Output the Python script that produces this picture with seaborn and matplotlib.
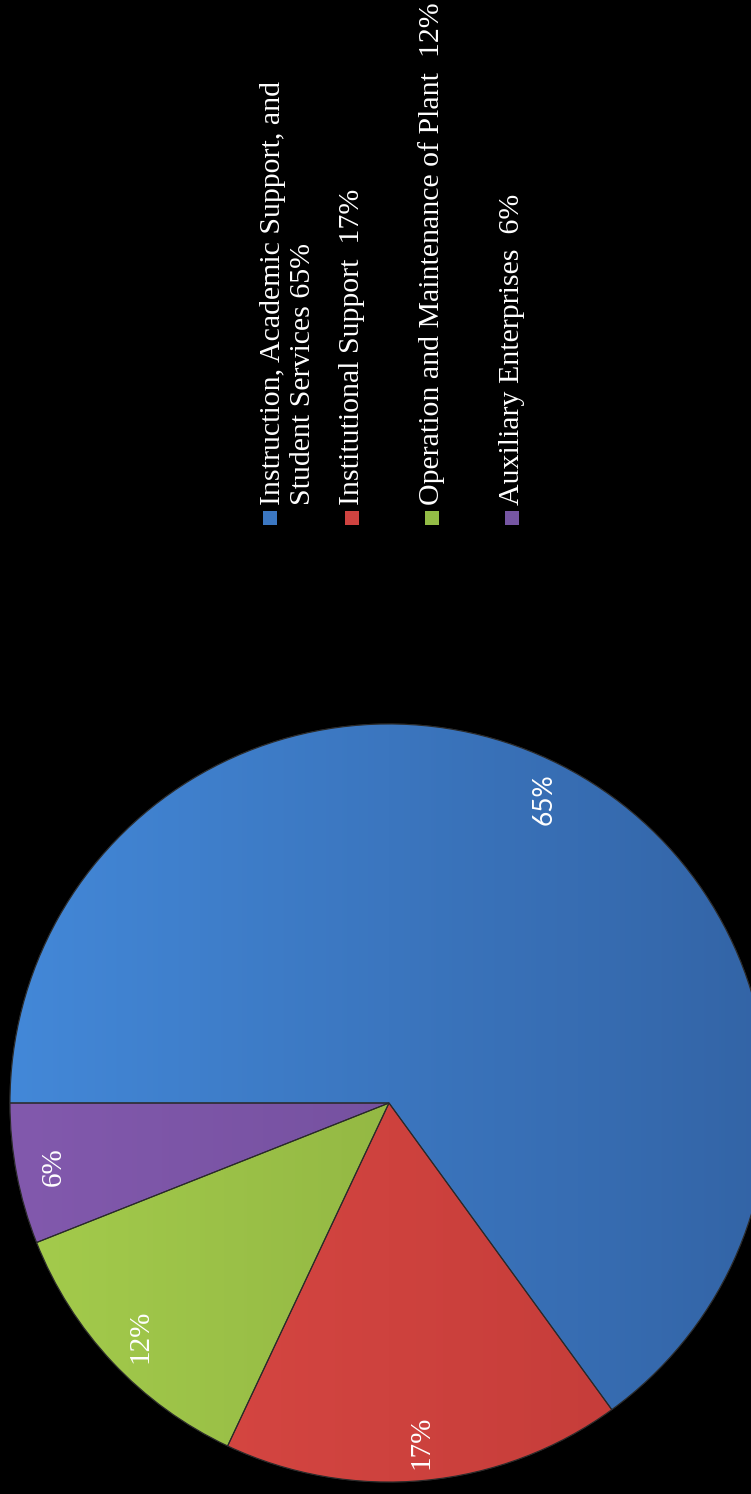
import matplotlib
matplotlib.use("Agg")
import matplotlib.pyplot as plt
import seaborn as sns
import numpy as np
from matplotlib.patches import Rectangle
from matplotlib.colors import LinearSegmentedColormap

# ---- data ----
categories = [
    "Instruction, Academic Support, and\nStudent Services 65%",
    "Institutional Support  17%",
    "Operation and Maintenance of Plant  12%",
    "Auxiliary Enterprises  6%",
]
values = [65, 17, 12, 6]
pct_labels = ["65%", "17%", "12%", "6%"]
colors = ["#3b77c2", "#cf4340", "#93bc46", "#7656a3"]
light_colors = ["#4388d8", "#dc4a45", "#a4cc4c", "#8259ad"]
dark_colors = ["#3364a6", "#c03a37", "#84a53c", "#6a4a94"]

sns.set_theme(style="white")
plt.rcParams["font.family"] = ["Liberation Serif", "DejaVu Serif"]

W, H = 751, 1494
fig = plt.figure(figsize=(W / 100, H / 100), dpi=100, facecolor="black")

cx, cy, R = 389, 1103, 379
ax = fig.add_axes([(cx - R) / W, (H - cy - R) / H, 2 * R / W, 2 * R / H])
ax.set_facecolor("black")
wedges, texts = ax.pie(
    values,
    colors=colors,
    startangle=180,
    counterclock=False,
    radius=1.0,
    wedgeprops=dict(edgecolor="#2a2a2a", linewidth=0.8),
)
grad = np.linspace(0, 1, 256).reshape(1, -1)
for w, lc, dc in zip(wedges, light_colors, dark_colors):
    w.set_clip_on(False)
    cmap = LinearSegmentedColormap.from_list("g", [lc, dc])
    im = ax.imshow(grad, cmap=cmap, extent=(-1, 1, -1, 1), aspect="auto",
                   zorder=w.get_zorder() + 0.1, interpolation="bilinear")
    im.set_clip_path(w)
    ax.add_patch(matplotlib.patches.Wedge(w.center, w.r, w.theta1, w.theta2,
                                          facecolor="none", edgecolor="#2a2a2a",
                                          linewidth=0.8, zorder=w.get_zorder() + 0.2,
                                          clip_on=False))
ax.set_xlim(-1, 1)
ax.set_ylim(-1, 1)
ax.axis("off")

# percentage labels at 0.9 radius, rotated
for i, (w, lab) in enumerate(zip(wedges, pct_labels)):
    ang = np.deg2rad((w.theta1 + w.theta2) / 2)
    fam = ["Lato", "DejaVu Sans"] if i == 0 else ["Liberation Serif", "DejaVu Serif"]
    ax.text(0.9 * np.cos(ang), 0.9 * np.sin(ang), lab, rotation=90,
            ha="center", va="center", color="white",
            fontsize=19 if i == 0 else 21, family=fam, clip_on=False, zorder=10)

# legend (rotated 90 degrees)
text_x = [288, 352, 432, 512]
marker_x = [270, 352, 432, 512]
for lab, col, tx, mx in zip(categories, colors, text_x, marker_x):
    fig.text(tx / W, 1 - 505 / H, lab, rotation=90, ha="center", va="bottom",
             color="white", fontsize=21.5, linespacing=1.15,
             family=["Liberation Serif", "DejaVu Serif"], multialignment="left")
    s = 14
    fig.add_artist(Rectangle(((mx - s / 2) / W, 1 - (518 + s / 2) / H), s / W, s / H,
                             transform=fig.transFigure, facecolor=col,
                             edgecolor="none"))

fig.savefig("out.png", dpi=100, facecolor="black")
